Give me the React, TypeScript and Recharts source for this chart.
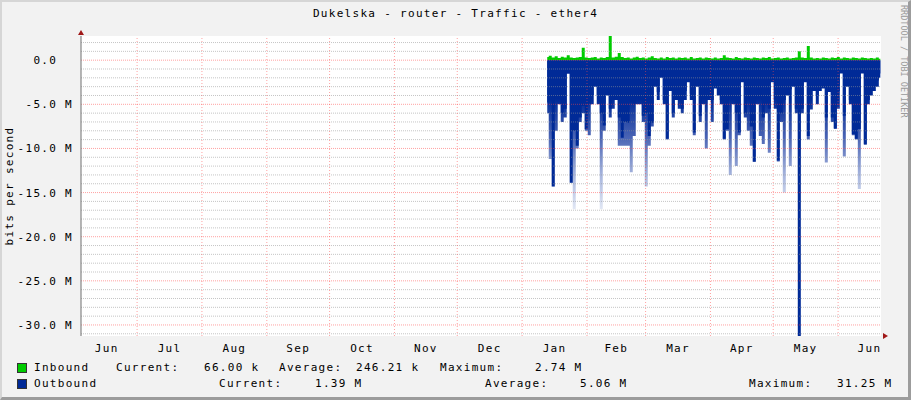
import React from "react"
import { ComposedChart, Area, XAxis, YAxis, CartesianGrid, ReferenceDot, ReferenceLine } from "recharts"

// time axis is in days counted from Jul 1 of the first year
const monthNames = ["Jun", "Jul", "Aug", "Sep", "Oct", "Nov", "Dec", "Jan", "Feb", "Mar", "Apr", "May", "Jun"]
const monthStartDays = [0, 31, 62, 92, 123, 153, 184, 215, 243, 274, 304, 335]
const monthLabelDays = [-14.5, 15.5, 46.5, 77, 107.5, 138, 168.5, 199.5, 229, 258.5, 289, 319.5, 350]
const xStart = -26.8
const xEnd = 355.5

// values in Mbit/s
const yTicks = [0, -5, -10, -15, -20, -25, -30]
const yMin = -31.25
const yMax = 2.74

// one sample every ~1.43 days, starting mid January
const sampleStartDay = 196
const sampleStepDays = 1.434

const inbound = [
  0.35, 0.5, 0.3, 0.45, 0.25, 0.4, 0.3, 0.55, 0.3, 0.25,
  0.3, 0.35, 1.4, 0.3, 0.25, 0.3, 0.35, 0.2, 0.3, 0.25,
  0.35, 2.74, 0.3, 0.4, 0.8, 0.35, 0.25, 0.3, 0.2, 0.3,
  0.4, 0.25, 0.3, 0.2, 0.3, 0.45, 0.25, 0.2, 0.3, 0.2,
  0.35, 0.25, 0.3, 0.2, 0.3, 0.25, 0.3, 0.2, 0.35, 0.2,
  0.25, 0.3, 0.2, 0.3, 0.25, 0.2, 0.3, 0.2, 0.25, 0.55,
  0.3, 0.25, 0.2, 0.35, 0.25, 0.2, 0.3, 0.25, 0.2, 0.3,
  0.25, 0.2, 0.3, 0.25, 0.35, 0.2, 0.25, 0.3, 0.2, 0.25,
  0.3, 0.2, 0.25, 0.3, 1.0, 0.3, 0.25, 1.6, 0.3, 0.2,
  0.25, 0.2, 0.3, 0.25, 0.2, 0.3, 0.25, 0.35, 0.2, 0.3,
  0.25, 0.2, 0.3, 0.25, 0.2, 0.3, 0.25, 0.2, 0.25, 0.2, 0.3, 0.15,
]

// outbound depth (drawn below zero): average and peak
const outboundAvg = [
  4.8, 4.5, 14.3, 4.0, 4.3, 6.0, 5.5, 1.5, 13.9, 8.0,
  9.7, 6.5, 5.2, 7.8, 5.0, 4.0, 2.2, 4.0, 6.0, 7.4,
  3.5, 5.5, 4.5, 4.0, 6.5, 8.8, 7.0, 7.1, 4.8, 5.0,
  3.5, 4.5, 6.3, 6.0, 8.6, 7.1, 2.2, 3.6, 1.3, 4.5,
  8.9, 2.5, 6.0, 3.5, 4.5, 5.5, 3.5, 1.5, 3.8, 8.2,
  2.2, 6.3, 4.0, 2.5, 3.5, 4.5, 2.5, 3.2, 4.5, 8.9,
  7.8, 3.5, 4.5, 6.0, 8.2, 1.8, 6.0, 3.3, 7.5, 11.5,
  4.0, 3.0, 6.5, 5.0, 5.5, 1.8, 4.5, 11.4, 6.0, 4.5,
  3.0, 3.3, 2.5, 5.5, 31.25, 5.5, 2.2, 8.6, 3.1, 3.2,
  4.0, 3.0, 2.8, 6.5, 3.3, 6.5, 7.7, 3.5, 1.1, 6.3,
  2.5, 4.5, 8.4, 8.9, 7.8, 1.1, 9.5, 4.5, 3.3, 2.8, 2.3, 1.5,
]
const outboundMax = [
  6.0, 11.2, 14.3, 8.0, 5.0, 7.0, 6.5, 1.5, 13.9, 16.9,
  10.0, 7.0, 6.0, 8.0, 8.5, 5.0, 3.0, 5.0, 16.9, 8.0,
  4.0, 6.5, 5.5, 4.5, 9.7, 9.7, 9.7, 9.7, 12.7, 8.6,
  5.0, 5.0, 7.0, 14.3, 9.7, 7.5, 3.0, 4.5, 2.0, 5.0,
  9.0, 3.5, 6.5, 4.5, 5.5, 6.0, 4.5, 2.5, 4.5, 8.5,
  3.0, 7.0, 5.0, 10.0, 4.5, 7.0, 3.2, 4.0, 5.0, 9.0,
  8.0, 13.0, 5.0, 12.0, 8.5, 2.5, 6.5, 8.0, 9.7, 11.5,
  5.0, 8.6, 9.5, 6.0, 10.5, 2.5, 5.5, 11.5, 7.0, 15.0,
  4.0, 12.0, 3.0, 6.0, 31.25, 6.0, 2.5, 9.0, 5.6, 3.5,
  5.0, 3.5, 3.2, 11.6, 3.6, 7.0, 7.8, 5.5, 1.5, 10.9,
  3.0, 5.0, 8.5, 9.0, 14.6, 1.5, 9.6, 5.0, 4.0, 3.5, 3.0, 2.0,
]

const legendRows = [
  { name: "Inbound", color: "#00cc00", cells: [["Current:", 116], ["66.00 k", 204], ["Average:", 279], ["246.21 k", 356], ["Maximum:", 440], ["2.74 M", 535]] },
  { name: "Outbound", color: "#002a97", cells: [["Current:", 219], ["1.39 M", 315], ["Average:", 485], ["5.06 M", 580], ["Maximum:", 749], ["31.25 M", 837]] },
]

const font = "'DejaVu Sans Mono', monospace"
const textStyle: React.CSSProperties = { position: "absolute", fontFamily: font, fontSize: 11, letterSpacing: "1.3px", lineHeight: "12px", color: "#000", whiteSpace: "pre" }

// minor grid every 1 M, major every 5 M
const minorLines: number[] = []
for (let v = 2; v >= -31; v--) if (v % 5 !== 0) minorLines.push(v)

const minorStroke = "rgba(150,150,150,0.55)"
const majorStroke = "rgba(255,70,70,0.5)"

function YTick({ x, y, payload }: any) {
  const v = payload.value
  const label = v === 0 ? "0.0  " : `${v.toFixed(1)} M`
  return (
    <text x={x} y={y} dy="0.36em" textAnchor="end" fill="#000" fontSize={11} fontFamily={font}
      style={{ whiteSpace: "pre", letterSpacing: "1.3px" }}>
      {label}
    </text>
  )
}

export default function App() {
  const data = outboundAvg.map((v, i) => ({
    day: sampleStartDay + i * sampleStepDays,
    inbound: inbound[i],
    outMax: -outboundMax[i],
    outAvg: -v,
  }))

  return (
    <div style={{ position: "relative", width: 911, height: 400, background: "#f2f2f2", overflow: "hidden" }}>
      <style>{"body{margin:0}"}</style>
      <div style={{ position: "absolute", left: 0, top: 0 }}>
        <ComposedChart width={911} height={400} data={data} margin={{ top: 36, right: 30, bottom: 34, left: 8 }}>
          <defs>
            <linearGradient id="outFade" x1="0" y1="0" x2="0" y2="1">
              <stop offset="0" stopColor="#002a97" />
              <stop offset="0.14" stopColor="#002a97" />
              <stop offset="0.28" stopColor="#4a64b4" />
              <stop offset="0.42" stopColor="#a9b7de" />
              <stop offset="0.55" stopColor="#e6ebf6" />
              <stop offset="1" stopColor="#ffffff" />
            </linearGradient>
          </defs>
          <CartesianGrid xAxisId="months" horizontal={false} vertical={false} fill="#ffffff" />
          <XAxis xAxisId="months" dataKey="day" type="number" domain={[xStart, xEnd]} allowDataOverflow
            ticks={monthStartDays} interval={0} tick={() => <g />} tickSize={3}
            tickLine={{ stroke: "#e07070" }} axisLine={{ stroke: "#707070" }} height={0} />
          <XAxis xAxisId="labels" dataKey="day" type="number" domain={[xStart, xEnd]} allowDataOverflow
            ticks={monthLabelDays} interval={0} minTickGap={0} axisLine={false} tickLine={false} height={30}
            tickFormatter={(v: number) => monthNames[monthLabelDays.indexOf(v)]}
            tick={{ fill: "#000", fontSize: 11, fontFamily: font, letterSpacing: 1.3 } as any} />
          <YAxis type="number" domain={[yMin, yMax]} allowDataOverflow ticks={yTicks} interval={0}
            width={73} tick={<YTick />} tickLine={false} axisLine={{ stroke: "#707070" }} />
          <Area xAxisId="months" type="step" dataKey="inbound" fill="#00cc00" fillOpacity={1}
            stroke="none" isAnimationActive={false} />
          <Area xAxisId="months" type="step" dataKey="outMax" fill="url(#outFade)" fillOpacity={1}
            stroke="none" isAnimationActive={false} />
          <Area xAxisId="months" type="step" dataKey="outAvg" fill="#002a97" fillOpacity={1}
            stroke="none" isAnimationActive={false} />
          {minorLines.map((v) => (
            <ReferenceLine key={"h" + v} xAxisId="months" y={v} stroke={minorStroke} strokeDasharray="1 1" />
          ))}
          {yTicks.map((v) => (
            <ReferenceLine key={"H" + v} xAxisId="months" y={v} stroke={majorStroke} strokeDasharray="1 1" />
          ))}
          {monthStartDays.map((d) => (
            <ReferenceLine key={"V" + d} xAxisId="months" x={d} stroke={majorStroke} strokeDasharray="1 2" />
          ))}
          <ReferenceDot xAxisId="months" x={xEnd} y={yMin} ifOverflow="visible"
            shape={(p: any) => <path d={`M${p.cx + 2},${p.cy - 3} L${p.cx + 7},${p.cy} L${p.cx + 2},${p.cy + 3} Z`} fill="#a01818" />} />
          <ReferenceDot xAxisId="months" x={xStart} y={yMax} ifOverflow="visible"
            shape={(p: any) => <path d={`M${p.cx - 3},${p.cy - 1} L${p.cx},${p.cy - 6} L${p.cx + 3},${p.cy - 1} Z`} fill="#a01818" />} />
        </ComposedChart>
      </div>

      <div style={{ ...textStyle, left: 0, width: 911, top: 8, textAlign: "center" }}>
        Dukelska - router - Traffic - ether4
      </div>
      <div style={{ ...textStyle, left: 9.5, top: 186, transform: "translate(-50%, -50%) rotate(-90deg)" }}>
        bits per second
      </div>
      <div style={{ position: "absolute", left: 899, top: 5, writingMode: "vertical-rl", fontFamily: font, fontSize: 8.5, color: "#9a9a9a", lineHeight: "9px", whiteSpace: "pre" }}>
        RRDTOOL / TOBI OETIKER
      </div>

      {legendRows.map((row, r) => (
        <React.Fragment key={row.name}>
          <div style={{ position: "absolute", left: 17, top: 363 + r * 16, width: 8, height: 8, background: row.color, border: "1px solid #333" }} />
          <div style={{ ...textStyle, left: 34, top: 362 + r * 16 }}>{row.name}</div>
          {row.cells.map(([txt, x]) => (
            <div key={String(txt) + x} style={{ ...textStyle, left: x as number, top: 362 + r * 16 }}>{txt}</div>
          ))}
        </React.Fragment>
      ))}

      <div style={{ position: "absolute", inset: 0, boxSizing: "border-box", pointerEvents: "none",
        borderLeft: "2px solid #d6d6d6", borderTop: "2px solid #d6d6d6",
        borderRight: "3px solid #9c9c9c", borderBottom: "3px solid #9c9c9c" }} />
    </div>
  )
}
